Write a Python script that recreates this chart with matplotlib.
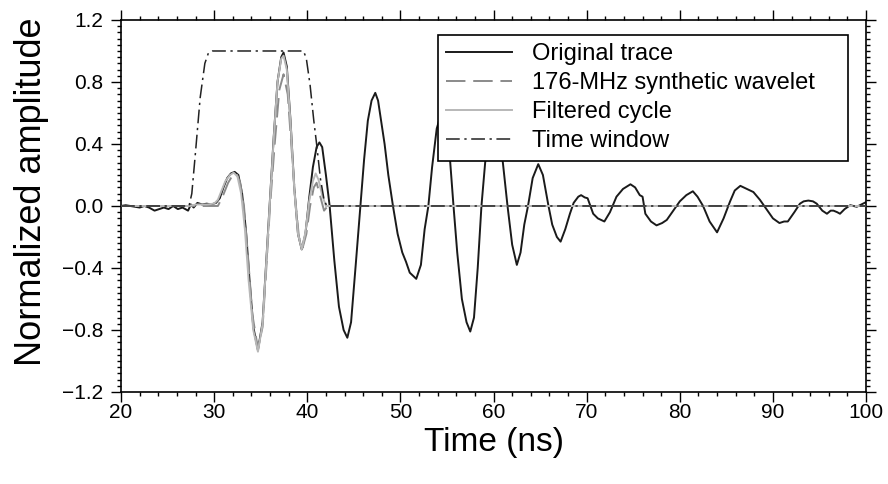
import matplotlib
matplotlib.use("Agg")
import matplotlib.pyplot as plt
from matplotlib.ticker import MultipleLocator, FuncFormatter

plt.rcParams["font.family"] = ["Liberation Sans", "DejaVu Sans"]

# original GPR trace (time in ns, normalized amplitude)
trace_t = [20.0, 20.5, 21.0, 21.5, 22.0, 22.5, 23.0, 23.6, 24.1, 24.6, 25.1, 25.6, 26.1, 26.6,
           27.2, 27.5, 27.8, 28.2, 28.7, 29.2, 29.7, 30.2, 30.6, 31.0, 31.4, 31.8, 32.2, 32.6,
           33.0, 33.4, 33.8, 34.2, 34.7, 35.2, 35.6, 36.0, 36.4, 36.8, 37.2, 37.45, 37.8, 38.2,
           38.6, 39.0, 39.4, 39.8, 40.2, 40.6, 41.0, 41.3, 41.6, 42.0, 42.4, 42.9, 43.4, 43.9,
           44.3, 44.7, 45.2, 45.7, 46.1, 46.5, 46.9, 47.3, 47.6, 48.0, 48.3, 48.7, 49.2, 49.7,
           50.2, 50.6, 51.0, 51.7, 52.2, 52.6, 53.0, 53.4, 53.9, 54.4, 54.8, 55.2, 55.7, 56.1,
           56.6, 57.1, 57.5, 57.9, 58.3, 58.7, 59.1, 59.6, 60.1, 60.6, 61.0, 61.5, 62.0, 62.5,
           62.9, 63.3, 63.7, 64.2, 64.8, 65.3, 65.9, 66.3, 66.8, 67.2, 67.7, 68.2, 68.6, 69.1,
           69.4, 69.8, 70.1, 70.7, 71.2, 71.9, 72.5, 73.2, 73.9, 74.7, 75.2, 75.7, 76.0, 76.3,
           76.9, 77.5, 78.1, 78.6, 79.3, 80.0, 80.7, 81.4, 81.9, 82.5, 83.2, 84.0, 84.7, 85.4,
           85.9, 86.5, 87.2, 87.9, 88.6, 89.3, 90.0, 90.7, 91.2, 91.6, 92.3, 92.9, 93.3, 93.8,
           94.3, 94.7, 95.3, 95.8, 96.2, 96.5, 96.9, 97.2, 97.7, 98.3, 99.0, 99.5, 100.0]
trace_a = [0.0, 0.005, 0.0, -0.005, -0.01, 0.0, -0.01, -0.03, -0.02, -0.01, -0.02, 0.0, -0.02, -0.01,
           -0.03, 0.01, -0.01, 0.02, 0.01, 0.015, 0.01, 0.02, 0.05, 0.12, 0.18, 0.21, 0.22, 0.20,
           0.08, -0.15, -0.48, -0.78, -0.93, -0.75, -0.35, 0.05, 0.45, 0.80, 0.96, 0.99, 0.90, 0.55,
           0.12, -0.18, -0.28, -0.18, 0.05, 0.25, 0.38, 0.41, 0.38, 0.20, 0.0, -0.35, -0.65, -0.80,
           -0.85, -0.75, -0.38, 0.0, 0.30, 0.55, 0.68, 0.73, 0.68, 0.52, 0.40, 0.20, 0.0, -0.18,
           -0.30, -0.36, -0.43, -0.47, -0.38, -0.15, 0.0, 0.25, 0.50, 0.60, 0.55, 0.40, 0.0, -0.30,
           -0.60, -0.75, -0.81, -0.72, -0.40, 0.0, 0.28, 0.50, 0.55, 0.45, 0.28, 0.0, -0.25, -0.38,
           -0.30, -0.12, 0.0, 0.18, 0.27, 0.20, 0.0, -0.12, -0.20, -0.23, -0.15, -0.05, 0.02, 0.06,
           0.07, 0.055, 0.05, -0.05, -0.08, -0.10, -0.04, 0.06, 0.11, 0.14, 0.12, 0.07, 0.06, -0.05,
           -0.10, -0.125, -0.11, -0.09, -0.03, 0.03, 0.07, 0.095, 0.06, 0.0, -0.10, -0.17, -0.08, 0.03,
           0.10, 0.13, 0.11, 0.09, 0.04, -0.02, -0.08, -0.11, -0.10, -0.10, -0.04, 0.015, 0.03, 0.035,
           0.03, 0.015, -0.03, -0.05, -0.03, -0.03, -0.04, -0.05, -0.02, 0.005, -0.005, 0.01, 0.025]

# 176-MHz synthetic wavelet
wavelet_t = [20.0, 30.4, 30.9, 31.5, 32.0, 32.4, 32.8, 33.2, 33.6, 34.1, 34.7, 35.2, 35.6, 36.0,
             36.5, 37.0, 37.45, 37.9, 38.3, 38.7, 39.1, 39.5, 39.9, 40.3, 40.7, 41.0, 41.4, 41.8,
             42.2, 100.0]
wavelet_a = [0.0, 0.0, 0.06, 0.15, 0.20, 0.21, 0.15, 0.0, -0.30, -0.70, -0.92, -0.78, -0.40, 0.0,
             0.40, 0.75, 0.85, 0.72, 0.38, 0.05, -0.20, -0.27, -0.18, 0.0, 0.12, 0.15, 0.06, -0.03,
             0.0, 0.0]

# filtered cycle
filt_t = [20.0, 27.2, 27.6, 28.2, 29.2, 30.0, 30.4, 30.8, 31.2, 31.7, 32.1, 32.5, 32.9, 33.3,
          33.7, 34.2, 34.7, 35.2, 35.6, 36.0, 36.4, 36.8, 37.2, 37.45, 37.8, 38.2, 38.6, 39.0,
          39.4, 39.8, 40.2, 40.6, 40.9, 41.2, 41.6, 42.0, 100.0]
filt_a = [0.0, 0.0, 0.005, 0.01, 0.01, 0.015, 0.04, 0.10, 0.16, 0.20, 0.215, 0.19, 0.08, -0.15,
          -0.48, -0.80, -0.94, -0.76, -0.36, 0.04, 0.44, 0.80, 0.95, 0.97, 0.88, 0.54, 0.11, -0.18,
          -0.28, -0.17, 0.03, 0.16, 0.21, 0.17, 0.07, 0.0, 0.0]

# time window
win_t = [20.0, 27.3, 27.6, 28.0, 28.5, 29.0, 29.4, 29.8, 39.6, 39.9, 40.3, 40.7, 41.0, 41.4,
         41.8, 42.1, 100.0]
win_a = [0.0, 0.0, 0.08, 0.35, 0.70, 0.92, 0.99, 1.0, 1.0, 0.95, 0.78, 0.55, 0.40, 0.18,
         0.04, 0.0, 0.0]

fig = plt.figure(figsize=(8.88, 4.84), dpi=100)
ax = fig.add_axes([0.1363, 0.1901, 0.8390, 0.7686])

ax.plot(trace_t, trace_a, color="#1a1a1a", lw=1.4, label="Original trace", zorder=2)
ax.plot(wavelet_t, wavelet_a, color="#8a8a8a", lw=1.4, dashes=(10, 4), label="176-MHz synthetic wavelet", zorder=3)
ax.plot(filt_t, filt_a, color="#b8b8b8", lw=1.4, label="Filtered cycle", zorder=4)
ax.plot(win_t, win_a, color="#222222", lw=1.1, dashes=(9, 3, 1.5, 3), label="Time window", zorder=5)

ax.set_xlim(20, 100)
ax.set_ylim(-1.2, 1.2)
ax.xaxis.set_major_locator(MultipleLocator(10))
ax.xaxis.set_minor_locator(MultipleLocator(2))
ax.yaxis.set_major_locator(MultipleLocator(0.4))
ax.yaxis.set_minor_locator(MultipleLocator(0.04))
ax.yaxis.set_major_formatter(FuncFormatter(lambda v, p: f"{v:.1f}".replace("-", "\u2212")))
ax.tick_params(which="both", direction="out", top=True, right=True, width=1.0, labelsize=15)
ax.tick_params(which="major", length=7)
ax.tick_params(which="minor", length=3)
ax.tick_params(axis="x", which="major", pad=1)
ax.tick_params(axis="y", which="major", pad=6)
for s in ax.spines.values():
    s.set_linewidth(1.2)

ax.set_xlabel("Time (ns)", fontsize=24)
ax.set_ylabel("Normalized amplitude", fontsize=26)
ax.xaxis.set_label_coords(0.5, -0.095)
ax.yaxis.set_label_coords(-0.097, 0.537)

leg = ax.legend(loc="upper left", bbox_to_anchor=(0.4255, 0.6237, 0.5503, 0.336), mode="expand",
                fontsize=17, frameon=True, fancybox=False, edgecolor="black", framealpha=1,
                handlelength=2.8, handletextpad=0.85, labelspacing=0.3, borderpad=0.35,
                borderaxespad=0)
leg.get_frame().set_linewidth(1.2)

fig.savefig("out.png", dpi=100)
